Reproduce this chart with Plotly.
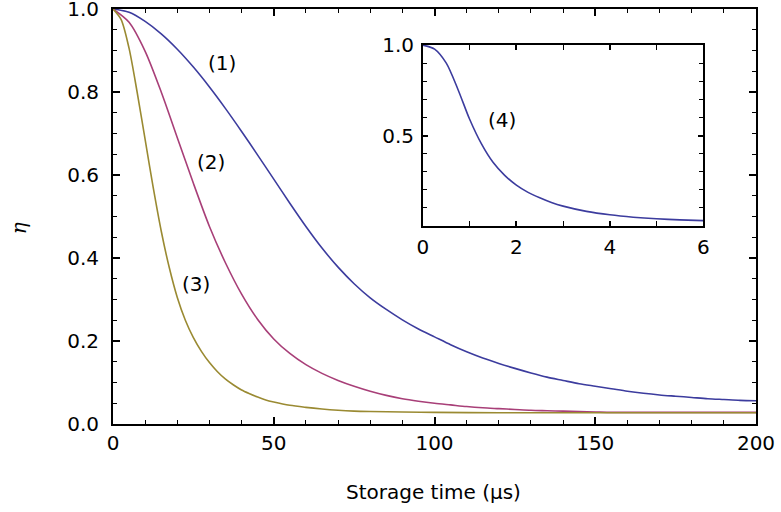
import plotly.graph_objects as go

# ---- data ----
t_main = list(range(0, 205, 5))
eta_1 = [1.0, 0.992, 0.970, 0.940, 0.903, 0.860, 0.812, 0.760, 0.705, 0.648, 0.590,
         0.532, 0.476, 0.424, 0.378, 0.338, 0.304, 0.276, 0.251, 0.229, 0.210,
         0.191, 0.174, 0.159, 0.146, 0.134, 0.123, 0.113, 0.105, 0.097, 0.091,
         0.085, 0.079, 0.074, 0.070, 0.067, 0.064, 0.061, 0.059, 0.057, 0.056]
eta_2 = [1.0, 0.968, 0.898, 0.800, 0.690, 0.580, 0.476, 0.388, 0.313, 0.252, 0.205,
         0.170, 0.143, 0.122, 0.105, 0.091, 0.079, 0.069, 0.061, 0.055, 0.050,
         0.046, 0.042, 0.039, 0.037, 0.035, 0.033, 0.032, 0.031, 0.030, 0.029,
         0.028, 0.028, 0.028, 0.028, 0.028, 0.028, 0.028, 0.028, 0.028, 0.028]
t_3 = [0, 2.5, 5, 7.5, 10, 12.5, 15, 17.5, 20, 22.5, 25, 27.5, 30, 32.5, 35, 37.5,
       40, 42.5, 45, 47.5, 50, 55, 60, 65, 70, 75, 80, 90, 100, 120, 140, 160, 180, 200]
eta_3 = [1.0, 0.975, 0.905, 0.800, 0.685, 0.570, 0.465, 0.377, 0.305, 0.250, 0.208,
         0.175, 0.148, 0.126, 0.108, 0.094, 0.082, 0.073, 0.065, 0.058, 0.053,
         0.045, 0.040, 0.036, 0.033, 0.031, 0.030, 0.029, 0.028, 0.027, 0.027,
         0.027, 0.027, 0.027]
t_4 = [0, 0.25, 0.5, 0.75, 1.0, 1.25, 1.5, 1.75, 2, 2.25, 2.5, 2.75, 3, 3.5, 4,
       4.5, 5, 5.5, 6]
eta_4 = [1.0, 0.978, 0.900, 0.755, 0.590, 0.455, 0.352, 0.280, 0.226, 0.186, 0.156,
         0.130, 0.110, 0.081, 0.062, 0.049, 0.040, 0.034, 0.030]

main_xticks = [0, 50, 100, 150, 200]
main_yticks = [0.0, 0.2, 0.4, 0.6, 0.8, 1.0]
inset_xticks = [0, 2, 4, 6]
inset_yticks = [0.5, 1.0]
curve_labels = ["(1)", "(2)", "(3)", "(4)"]
x_title = "Storage time (µs)"
y_title = "<i>η</i>"

BLUE = "#3c3c9e"
PINK = "#a83f78"
OLIVE = "#9a8a32"
FONT = "DejaVu Sans"
FS = 20

fig = go.Figure()
for t, e, c in [(t_main, eta_1, BLUE), (t_main, eta_2, PINK), (t_3, eta_3, OLIVE)]:
    fig.add_trace(go.Scatter(x=t, y=e, mode="lines",
                             line=dict(color=c, width=1.6, shape="spline", smoothing=0.8),
                             showlegend=False, xaxis="x", yaxis="y"))
fig.add_trace(go.Scatter(x=t_4, y=eta_4, mode="lines",
                         line=dict(color=BLUE, width=1.6, shape="spline", smoothing=0.8),
                         showlegend=False, xaxis="x2", yaxis="y2"))

axis_common = dict(showline=True, linecolor="black", linewidth=1.8, mirror="ticks",
                   ticks="inside", tickcolor="black", tickwidth=1.5, showgrid=False,
                   zeroline=False, automargin=False, ticklabeloverflow="allow",
                   tickfont=dict(family=FONT, size=FS, color="black"))

fig.update_layout(
    template="none",
    width=781, height=512,
    margin=dict(l=113, r=25, t=9, b=88),
    paper_bgcolor="white", plot_bgcolor="white",
    xaxis=dict(**axis_common, range=[0, 200], domain=[0, 1], tickvals=main_xticks,
               ticklen=7, ticklabelstandoff=0,
               minor=dict(ticks="inside", dtick=10, tick0=0, ticklen=4,
                          tickcolor="black", tickwidth=1.3)),
    yaxis=dict(**axis_common, range=[0, 1], domain=[0, 1], tickvals=main_yticks,
               tickformat=".1f", ticklen=7, ticklabelstandoff=8,
               minor=dict(ticks="inside", dtick=0.05, tick0=0, ticklen=4,
                          tickcolor="black", tickwidth=1.3)),
    xaxis2=dict(**axis_common, range=[0, 6], domain=[0.482, 0.918], anchor="y2",
                tickvals=inset_xticks, ticklen=5, ticklabelstandoff=2,
                minor=dict(ticks="inside", dtick=1, tick0=0, ticklen=5,
                           tickcolor="black", tickwidth=1.3)),
    yaxis2=dict(**axis_common, range=[0, 1], domain=[0.477, 0.913], anchor="x2",
                tickvals=inset_yticks, tickformat=".1f", ticklen=5, ticklabelstandoff=3,
                minor=dict(ticks="inside", dtick=0.1, tick0=0, ticklen=4,
                           tickcolor="black", tickwidth=1.3)),
)

fig.add_annotation(x=0.498, y=-0.164, xref="paper", yref="paper", text=x_title,
                   showarrow=False, xanchor="center", yanchor="middle",
                   font=dict(family=FONT, size=FS, color="black"))
fig.add_annotation(x=-0.146, y=0.472, xref="paper", yref="paper", text=y_title,
                   showarrow=False, textangle=-90, xanchor="center", yanchor="middle",
                   font=dict(family="DejaVu Serif", size=FS, color="black"))

label_pos = [(34, 0.87, "x", "y"), (30.6, 0.631, "x", "y"), (25.9, 0.337, "x", "y"),
             (1.69, 0.586, "x2", "y2")]
for txt, (x, y, xr, yr) in zip(curve_labels, label_pos):
    fig.add_annotation(x=x, y=y, xref=xr, yref=yr, text=txt, showarrow=False,
                       font=dict(family=FONT, size=FS, color="black"))

fig.write_html("out.html", config={"displayModeBar": False},
               post_script="document.body.style.margin='0';")
